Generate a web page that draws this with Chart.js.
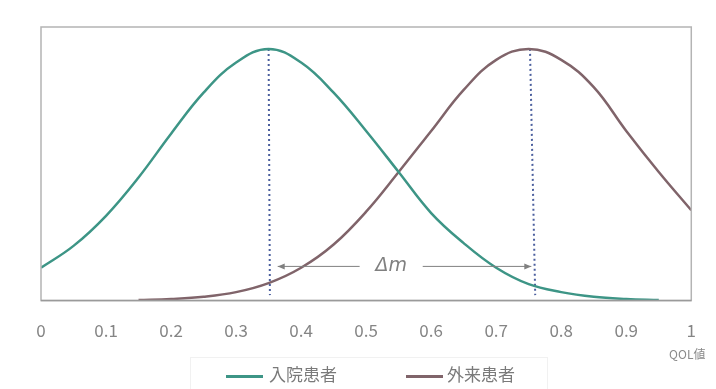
<!DOCTYPE html>
<html>
<head>
<meta charset="utf-8">
<script src="https://cdn.jsdelivr.net/npm/chart.js@4"></script>
<style>
  body { margin: 0; background: #fff; }
  #wrap { position: relative; width: 716px; height: 389px; }
  #legend { position: absolute; left: 190px; top: 357px; width: 356px; height: 31px;
            border: 1px solid #f1f1f1; font-family: "Noto Sans CJK JP", sans-serif;
            font-size: 17px; color: #7a7a7a; }
  #legend .swatch { position: absolute; top: 17px; width: 37px; height: 3px; }
  #legend .label { position: absolute; top: 4px; line-height: 24px; }
</style>
</head>
<body>
<div id="wrap">
  <canvas id="qolChart" width="716" height="389"></canvas>
  <div id="legend"></div>
</div>
<script>
// QOL value grid (x) and the two distributions
const qolValues = [0, 0.05, 0.1, 0.15, 0.2, 0.25, 0.3, 0.35, 0.4, 0.45, 0.5,
                   0.55, 0.6, 0.65, 0.7, 0.75, 0.8, 0.85, 0.9, 0.95, 1];
const inpatient = [0.12, 0.2, 0.31, 0.45, 0.61, 0.76, 0.87, 0.92, 0.87, 0.76, 0.62,
                   0.47, 0.32, 0.21, 0.12, 0.06, 0.031, 0.014, 0.006, 0.002, null];
const outpatient = [null, null, null, 0.002, 0.006, 0.014, 0.031, 0.064, 0.12, 0.205, 0.325,
                    0.47, 0.62, 0.77, 0.88, 0.92, 0.88, 0.78, 0.62, 0.47, 0.33];
const xTicks = [0, 0.1, 0.2, 0.3, 0.4, 0.5, 0.6, 0.7, 0.8, 0.9, 1];

// mean markers (dotted) and the Δm arrow
const inpatientMean = [{ x: 0.35, y: 0.92 }, { x: 0.352, y: 0.02 }];
const outpatientMean = [{ x: 0.752, y: 0.92 }, { x: 0.76, y: 0.02 }];
const deltaArrow = { from: 0.364, to: 0.754, y: 0.125, gapFrom: 0.49, gapTo: 0.587, label: 'Δm' };

const seriesNames = ['入院患者', '外来患者'];
const seriesColors = ['#3d9586', '#80646a'];
const meanColor = '#4b5f9e';

const toPoints = vals => qolValues.map((x, i) => ({ x, y: vals[i] }));

const framePlugin = {
    id: 'frame',
    afterDatasetsDraw(chart) {
        const { ctx, chartArea: a, scales } = chart;
        ctx.save();
        ctx.strokeStyle = '#b4b4b4';
        ctx.lineWidth = 1.5;
        ctx.strokeRect(a.left, a.top, a.right - a.left, a.bottom - a.top);
        ctx.strokeStyle = '#9a9a9a';
        ctx.beginPath();
        ctx.moveTo(a.left, a.bottom);
        ctx.lineTo(a.right, a.bottom);
        ctx.stroke();

        // Δm arrow
        const x = scales.x, y = scales.y;
        const yy = y.getPixelForValue(deltaArrow.y);
        const x1 = x.getPixelForValue(deltaArrow.from);
        const x2 = x.getPixelForValue(deltaArrow.to);
        const g1 = x.getPixelForValue(deltaArrow.gapFrom);
        const g2 = x.getPixelForValue(deltaArrow.gapTo);
        ctx.strokeStyle = '#808080';
        ctx.fillStyle = '#808080';
        ctx.lineWidth = 1;
        ctx.beginPath();
        ctx.moveTo(x1, yy); ctx.lineTo(g1, yy);
        ctx.moveTo(g2, yy); ctx.lineTo(x2, yy);
        ctx.stroke();
        ctx.beginPath();
        ctx.moveTo(x1, yy); ctx.lineTo(x1 + 7, yy - 3); ctx.lineTo(x1 + 7, yy + 3); ctx.closePath();
        ctx.moveTo(x2, yy); ctx.lineTo(x2 - 7, yy - 3); ctx.lineTo(x2 - 7, yy + 3); ctx.closePath();
        ctx.fill();
        ctx.font = 'italic 19px "DejaVu Sans", sans-serif';
        ctx.textAlign = 'center';
        ctx.textBaseline = 'middle';
        ctx.fillText(deltaArrow.label, (g1 + g2) / 2, yy);

        // axis unit under the last tick
        ctx.font = '12px "Noto Sans CJK JP", sans-serif';
        ctx.fillStyle = '#8a8a8a';
        ctx.fillText('QOL値', x.getPixelForValue(1) - 4, a.bottom + 54);
        ctx.restore();
    }
};

const chart = new Chart(document.getElementById('qolChart').getContext('2d'), {
    type: 'line',
    data: {
        datasets: [
            { label: seriesNames[0], data: toPoints(inpatient), borderColor: seriesColors[0],
              borderWidth: 2.5, pointRadius: 0, tension: 0.4 },
            { label: seriesNames[1], data: toPoints(outpatient), borderColor: seriesColors[1],
              borderWidth: 2.5, pointRadius: 0, tension: 0.4 },
            { label: 'mean1', data: inpatientMean, borderColor: meanColor, borderWidth: 2,
              borderDash: [2, 3], pointRadius: 0 },
            { label: 'mean2', data: outpatientMean, borderColor: meanColor, borderWidth: 2,
              borderDash: [2, 3], pointRadius: 0 }
        ]
    },
    options: {
        responsive: false,
        animation: false,
        layout: { padding: { left: 41, right: 24, top: 27, bottom: 28 } },
        plugins: { legend: { display: false }, tooltip: { enabled: false } },
        scales: {
            x: {
                type: 'linear', min: 0, max: 1,
                afterBuildTicks: scale => { scale.ticks = xTicks.map(v => ({ value: v })); },
                grid: { display: false, drawTicks: false },
                border: { display: false },
                ticks: {
                    padding: 20, color: '#858585', maxRotation: 0,
                    font: { family: '"Noto Sans CJK JP", sans-serif', size: 17 },
                    callback: v => String(v)
                }
            },
            y: { min: 0, max: 1, display: false }
        }
    },
    plugins: [framePlugin]
});

// HTML legend
const legend = document.getElementById('legend');
const legendPos = [[35, 78], [215, 256]];
seriesNames.forEach((name, i) => {
    const sw = document.createElement('div');
    sw.className = 'swatch';
    sw.style.left = legendPos[i][0] + 'px';
    sw.style.background = seriesColors[i];
    const lb = document.createElement('div');
    lb.className = 'label';
    lb.style.left = legendPos[i][1] + 'px';
    lb.textContent = name;
    legend.appendChild(sw);
    legend.appendChild(lb);
});
</script>
</body>
</html>
